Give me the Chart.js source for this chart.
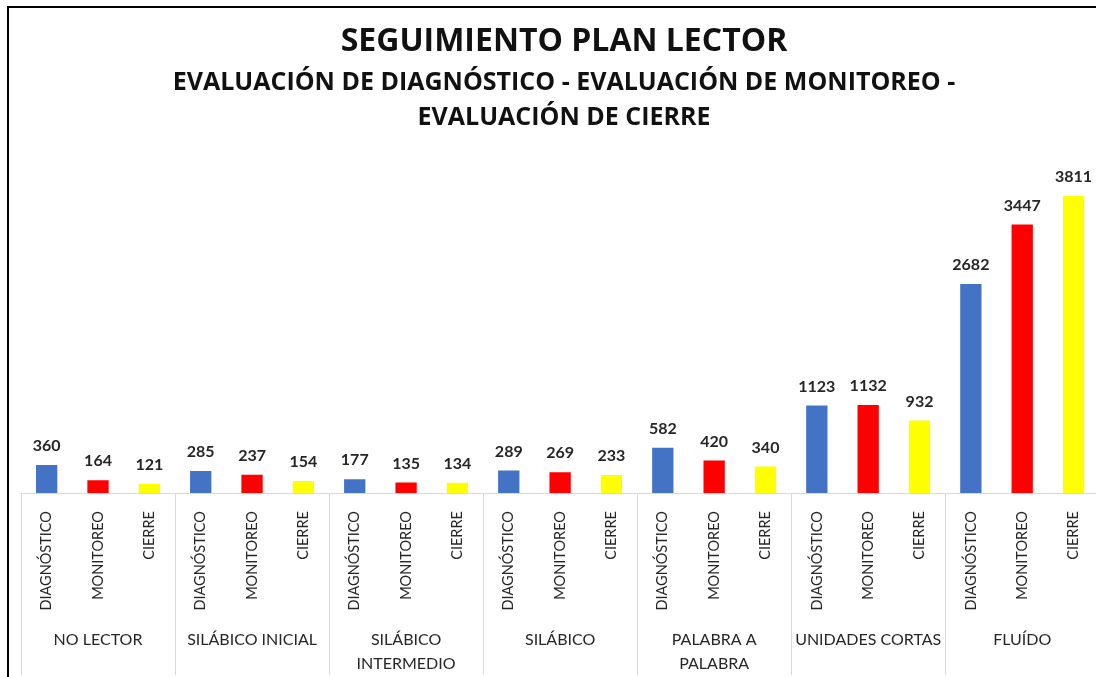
<!DOCTYPE html>
<html lang="es">
<head>
    <meta charset="UTF-8">
    <title>Seguimiento plan lector</title>
    <script src="https://cdn.jsdelivr.net/npm/chart.js@4/dist/chart.umd.min.js"></script>
    <style>
        html, body { margin: 0; padding: 0; background: #fff; overflow: hidden; }
        #frame {
            position: absolute; left: 7px; top: 6px; width: 1110px; height: 700px;
            border-left: 2px solid #000; border-top: 2px solid #000;
        }
        #box { position: absolute; left: 0; top: 0; width: 1100px; height: 667px; }
    </style>
</head>
<body>
    <div id="frame"><div id="box"><canvas id="chart"></canvas></div></div>
    <script>
        // niveles del plan lector
        const groups = ['NO LECTOR', 'SILÁBICO INICIAL', ['SILÁBICO', 'INTERMEDIO'], 'SILÁBICO',
                        ['PALABRA A', 'PALABRA'], 'UNIDADES CORTAS', 'FLUÍDO'];
        const evaluations = ['DIAGNÓSTICO', 'MONITOREO', 'CIERRE'];
        const diagnostico = [360, 285, 177, 289, 582, 1123, 2682];
        const monitoreo   = [164, 237, 135, 269, 420, 1132, 3447];
        const cierre      = [121, 154, 134, 233, 340, 932, 3811];
        const colors = ['#4472C4', '#FF0000', '#FFFF00'];

        const labels = [];
        const values = [];
        const barColors = [];
        groups.forEach((g, i) => {
            [diagnostico[i], monitoreo[i], cierre[i]].forEach((v, j) => {
                labels.push(evaluations[j]);
                values.push(v);
                barColors.push(colors[j]);
            });
        });

        const FONT = 'Lato';
        const TITLE_FONT = 'Open Sans';

        // etiquetas de valor encima de cada barra
        const valueLabels = {
            id: 'valueLabels',
            afterDatasetsDraw(chart) {
                const ctx = chart.ctx;
                const meta = chart.getDatasetMeta(0);
                ctx.save();
                ctx.font = 'bold 16px ' + FONT;
                ctx.fillStyle = '#262626';
                ctx.textAlign = 'center';
                ctx.textBaseline = 'bottom';
                meta.data.forEach((bar, i) => {
                    ctx.fillText(values[i], bar.x, bar.y - 11);
                });
                ctx.restore();
            }
        };

        // lineas que separan los grupos en el eje
        const groupLines = {
            id: 'groupLines',
            afterDraw(chart) {
                const ctx = chart.ctx;
                const x = chart.scales.x;
                const step = x.width / labels.length;
                ctx.save();
                ctx.strokeStyle = '#d9d9d9';
                ctx.lineWidth = 1;
                for (let g = 0; g <= groups.length; g++) {
                    const px = Math.round(x.getPixelForValue(g * 3) - step / 2) + 0.5;
                    ctx.beginPath();
                    ctx.moveTo(px, chart.chartArea.bottom);
                    ctx.lineTo(px, chart.height);
                    ctx.stroke();
                }
                ctx.restore();
            }
        };

        new Chart(document.getElementById('chart'), {
            type: 'bar',
            data: {
                labels: labels,
                datasets: [{
                    data: values,
                    backgroundColor: barColors,
                    categoryPercentage: 1,
                    barPercentage: 0.415
                }]
            },
            options: {
                responsive: true,
                maintainAspectRatio: false,
                animation: false,
                layout: { padding: { left: 12, right: 2, top: 0, bottom: 0 } },
                plugins: {
                    legend: { display: false },
                    tooltip: { enabled: false },
                    title: {
                        display: true,
                        text: 'SEGUIMIENTO PLAN LECTOR',
                        color: '#111',
                        font: { family: TITLE_FONT, size: 32, weight: 'bold' },
                        padding: { top: 15, bottom: 4 }
                    },
                    subtitle: {
                        display: true,
                        text: ['EVALUACIÓN DE DIAGNÓSTICO - EVALUACIÓN DE MONITOREO -', 'EVALUACIÓN DE CIERRE'],
                        color: '#111',
                        font: { family: TITLE_FONT, size: 25, weight: 'bold', lineHeight: 1.4 },
                        padding: { top: 0, bottom: 0 }
                    }
                },
                scales: {
                    y: { display: false, min: 0, max: 4590 },
                    x: {
                        grid: { display: false, drawTicks: false },
                        border: { display: true, color: '#d9d9d9' },
                        ticks: {
                            autoSkip: false, minRotation: 90, maxRotation: 90, padding: 18,
                            color: '#262626', font: { family: FONT, size: 14.5 }
                        }
                    },
                    x2: {
                        type: 'category',
                        labels: groups,
                        position: 'bottom',
                        grid: { display: false, drawTicks: false },
                        border: { display: false },
                        ticks: {
                            autoSkip: false, maxRotation: 0, padding: 0,
                            color: '#262626', font: { family: FONT, size: 16, lineHeight: 1.45 }
                        }
                    }
                }
            },
            plugins: [valueLabels, groupLines]
        });
    </script>
</body>
</html>
